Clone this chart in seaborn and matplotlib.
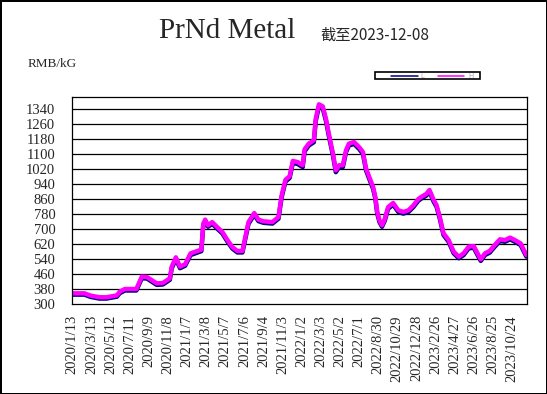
import matplotlib
matplotlib.use("Agg")
import matplotlib.pyplot as plt
from matplotlib.patches import Rectangle
from matplotlib.lines import Line2D
import seaborn as sns
import pandas as pd

# ---------------- data ----------------
dates = ["2020-01-13", "2020-02-20", "2020-03-10", "2020-04-07", "2020-04-29", "2020-06-01",
         "2020-06-10", "2020-06-26", "2020-08-01", "2020-08-18", "2020-09-03", "2020-10-04",
         "2020-10-23", "2020-11-14", "2020-11-20", "2020-12-03", "2020-12-16", "2021-01-01",
         "2021-01-18", "2021-02-21", "2021-02-27", "2021-03-05", "2021-03-14", "2021-03-27",
         "2021-04-11", "2021-04-28", "2021-05-13", "2021-05-29", "2021-06-14", "2021-06-30",
         "2021-07-09", "2021-07-19", "2021-08-06", "2021-08-19", "2021-09-04", "2021-10-02",
         "2021-10-21", "2021-10-31", "2021-11-12", "2021-11-25", "2021-12-05", "2021-12-20",
         "2022-01-05", "2022-01-11", "2022-01-24", "2022-02-09", "2022-02-15", "2022-02-25",
         "2022-03-09", "2022-03-19", "2022-03-28", "2022-04-10", "2022-04-19", "2022-04-29",
         "2022-05-11", "2022-05-21", "2022-05-30", "2022-06-15", "2022-07-01", "2022-07-13",
         "2022-07-23", "2022-08-02", "2022-08-14", "2022-08-21", "2022-08-27", "2022-09-03",
         "2022-09-11", "2022-09-20", "2022-09-30", "2022-10-16", "2022-11-01", "2022-11-17",
         "2022-12-03", "2022-12-18", "2023-01-03", "2023-01-13", "2023-01-28", "2023-02-07",
         "2023-02-20", "2023-03-01", "2023-03-11", "2023-03-23", "2023-04-08", "2023-04-24",
         "2023-05-10", "2023-05-25", "2023-06-10", "2023-06-26", "2023-07-05", "2023-07-18",
         "2023-07-31", "2023-08-15", "2023-08-31", "2023-09-16", "2023-10-02", "2023-10-18",
         "2023-11-02", "2023-11-20", "2023-12-08"]

H = [357, 357, 345, 336, 336, 346, 366, 380, 380, 446,
     444, 410, 412, 437, 499, 549, 499, 512, 570, 590,
     728, 750, 720, 737, 711, 684, 643, 604, 583, 583,
     657, 737, 785, 750, 741, 737, 764, 880, 963, 981,
     1063, 1057, 1040, 1125, 1155, 1173, 1288, 1365, 1354, 1288,
     1208, 1102, 1013, 1040, 1040, 1120, 1155, 1164, 1137, 1111,
     1022, 977, 924, 871, 791, 746, 720, 755, 817, 839,
     800, 791, 800, 825, 860, 872, 887, 908, 855, 828,
     766, 677, 641, 579, 552, 570, 606, 609, 579, 538,
     570, 583, 615, 645, 641, 654, 641, 623, 561]

L = [350, 350, 338, 329, 329, 339, 358, 372, 372, 437,
     436, 402, 404, 429, 490, 540, 491, 504, 561, 582,
     718, 741, 712, 728, 703, 676, 635, 596, 575, 575,
     648, 728, 776, 742, 733, 729, 755, 870, 953, 972,
     1052, 1047, 1030, 1114, 1145, 1163, 1276, 1354, 1343, 1277,
     1197, 1092, 1003, 1030, 1030, 1110, 1145, 1154, 1127, 1101,
     1012, 967, 914, 862, 782, 737, 712, 746, 808, 830,
     791, 782, 791, 816, 851, 863, 878, 898, 846, 819,
     757, 668, 632, 570, 544, 561, 597, 600, 570, 530,
     561, 574, 606, 636, 632, 645, 632, 614, 553]

x_tick_labels = ["2020/1/13", "2020/3/13", "2020/5/12", "2020/7/11", "2020/9/9", "2020/11/8",
                 "2021/1/7", "2021/3/8", "2021/5/7", "2021/7/6", "2021/9/4", "2021/11/3",
                 "2022/1/2", "2022/3/3", "2022/5/2", "2022/7/1", "2022/8/30", "2022/10/29",
                 "2022/12/28", "2023/2/26", "2023/4/27", "2023/6/26", "2023/8/25", "2023/10/24"]
y_ticks = [300, 380, 460, 540, 620, 700, 780, 860, 940, 1020, 1100, 1180, 1260, 1340]

title = "PrNd Metal"
subtitle = "截至2023-12-08"
unit = "RMB/kG"

# ---------------- figure ----------------
sns.set_style("white")
plt.rcParams["font.family"] = ["Liberation Serif", "DejaVu Sans"]

W, H_px = 547, 394
fig = plt.figure(figsize=(W / 100, H_px / 100), dpi=100)
fig.patch.set_facecolor("white")
fig.patch.set_edgecolor("black")
fig.patch.set_linewidth(2)

def fx(x):
    return x / W

def fy(y):
    return 1 - y / H_px

ax = fig.add_axes([fx(72), fy(304), fx(527) - fx(72), fy(97) - fy(304)])

df = pd.DataFrame({
    "date": pd.to_datetime(dates * 2),
    "price": L + H,
    "series": ["L"] * len(L) + ["H"] * len(H),
})

sns.lineplot(data=df, x="date", y="price", hue="series", hue_order=["L", "H"],
             palette={"L": "#000080", "H": "#FF00FF"}, linewidth=3.2,
             legend=False, ax=ax, solid_joinstyle="round", solid_capstyle="round")

ax.set_xlim(pd.Timestamp("2020-01-12"), pd.Timestamp("2023-12-10"))
ax.set_ylim(300, 1404)

xt = pd.to_datetime(x_tick_labels, format="%Y/%m/%d")
ax.set_xticks(xt)
ax.set_xticklabels(x_tick_labels, rotation=90, ha="center", va="top",
                   fontsize=10.5, family="Liberation Serif")
ax.set_yticks(y_ticks)
ax.set_yticklabels([str(v) for v in y_ticks], fontsize=10.5, family="Liberation Serif")

ax.tick_params(axis="x", direction="in", length=4, width=0.8, color="black", pad=8)
ax.tick_params(axis="y", length=0, pad=12)
ax.grid(False)
for v in y_ticks[1:]:
    ax.axhline(v, color="black", linewidth=0.9, zorder=0.5)

for s in ax.spines.values():
    s.set_color("black")
    s.set_linewidth(0.9)
ax.set_xlabel("")
ax.set_ylabel("")

# texts
fig.text(fx(227), fy(31), title, ha="center", va="center",
         fontsize=21, family="Liberation Serif")
fig.text(fx(320), fy(35), subtitle, ha="left", va="center",
         fontsize=11, family=["Noto Sans CJK SC", "DejaVu Sans"])
fig.text(fx(28), fy(64), unit, ha="left", va="center",
         fontsize=9.5, family="Liberation Serif")

# legend box
fig.add_artist(Rectangle((fx(375), fy(79)), fx(480) - fx(375), fy(72) - fy(79),
                         transform=fig.transFigure, facecolor="white",
                         edgecolor="black", linewidth=1.2))
fig.add_artist(Line2D([fx(391), fx(418)], [fy(75.5), fy(75.5)],
                      transform=fig.transFigure, color="#000080", linewidth=1.1))
fig.add_artist(Line2D([fx(438), fx(464)], [fy(75.5), fy(75.5)],
                      transform=fig.transFigure, color="#FF00FF", linewidth=1.1))
fig.text(fx(420), fy(75.5), "L", ha="left", va="center", fontsize=5, color="#D8A0A8",
         family="DejaVu Sans")
fig.text(fx(468), fy(75.5), "H", ha="left", va="center", fontsize=5, color="#A8A0D0",
         family="DejaVu Sans")

fig.savefig("out.png", dpi=100, facecolor="white", edgecolor="black")
